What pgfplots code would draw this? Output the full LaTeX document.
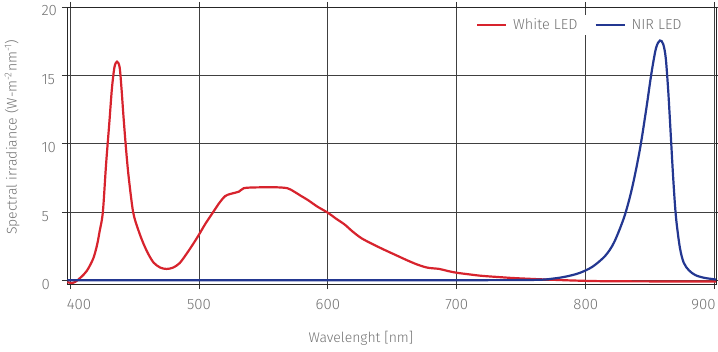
\documentclass[border=0pt]{standalone}
\usepackage{fontspec}
\setmainfont{Fira Sans}[UprightFont=* Light]
\usepackage{pgfplots}
\pgfplotsset{compat=1.18}
\definecolor{wled}{RGB}{215,35,45}
\definecolor{nled}{RGB}{35,55,145}
\definecolor{txt}{RGB}{115,115,115}
\begin{document}
\begin{tikzpicture}
\begin{axis}[
  scale only axis,
  width=649pt, height=277pt,
  xmin=397.7, xmax=901, ymin=-0.25, ymax=20,
  xtick={400,500,...,900}, ytick={0,5,10,15,20},
  xticklabels={\makebox[0pt][l]{\hspace{-3pt}400},500,600,700,800,\makebox[0pt][r]{900\hspace{-1pt}}},
  /pgf/number format/assume math mode=true,
  tick label style={font=\fontsize{15}{15}\selectfont, text=txt},
  xticklabel style={yshift=-7pt},
  yticklabel style={anchor=west, xshift=-24pt, yshift=-4pt},
  tick align=outside, major tick length=5pt,
  tick style={black!80, line width=0.8pt},
  grid=major, grid style={black!75, line width=0.8pt},
  axis line style={black!85, line width=0.8pt},
  xlabel={Wavelenght [nm]}, ylabel={Spectral irradiance (W-m\textsuperscript{-2}nm\textsuperscript{-1})},
  xlabel style={font=\fontsize{14}{14}\selectfont, text=txt, at={(axis description cs:0.453,-0.195)}, anchor=center},
  ylabel style={font=\fontsize{14}{14}\selectfont, text=txt, at={(axis description cs:-0.0847,0.53)}, anchor=center},
  legend columns=2,
  legend style={draw=none, fill=white, font=\fontsize{14.5}{14.5}\selectfont, text=txt,
    at={(axis description cs:0.955,0.935)}, anchor=east,
    /tikz/every even column/.append style={column sep=15pt},
    /tikz/every odd column/.append style={column sep=4pt}},
  legend image code/.code={\draw[#1] (0pt,0pt) -- (29pt,0pt);},
  legend cell align=left,
]
\addplot[wled, line width=2.2pt, smooth, tension=0.5] coordinates {
(398,-0.1) (401,-0.18) (404,-0.1) (408,0.2) (413,0.7) (418,1.6) (421,2.6) (423,3.6) (425.5,5) (428,8.5) (430.5,11.5) (432.5,14) (434.5,15.6) (436.5,16.0) (438.5,15.6) (440,14) (441.5,12) (443.5,9.6) (445.5,7.6) (449,5) (453,3.7) (457,2.7) (461,1.9) (465,1.3) (470,0.95) (475,0.85) (480,0.95) (485,1.27) (490,1.9) (495,2.6) (500,3.35) (505,4.15) (511,5.0) (516,5.7) (520.4,6.18) (524.3,6.33) (528,6.42) (531,6.5) (534.7,6.75) (540,6.8) (550,6.82) (560,6.82) (568.7,6.75) (573.9,6.5) (579,6.2) (584.3,5.9) (592,5.4) (600,4.96) (606,4.55) (613,4.1) (619,3.6) (626,3.1) (635,2.65) (644,2.24) (653,1.85) (662,1.46) (670,1.15) (677.5,0.94) (686.5,0.85) (693,0.7) (700,0.57) (710,0.45) (719,0.35) (732,0.26) (745,0.18) (766,0.09) (792,0.0) (820,-0.05) (901,-0.07)
};
\addlegendentry{White LED}
\addplot[nled, line width=2.2pt, smooth, tension=0.5] coordinates {
(398,0.03) (700,0.03) (760,0.05) (775,0.15) (785,0.3) (795,0.55) (805,1.0) (815,1.8) (822,2.8) (830,4.7) (836,6.8) (842,9.6) (847,12.6) (851,15.2) (854.5,17.0) (857.5,17.55) (860,17.3) (862,16.3) (864,13.8) (866,10.5) (868,7.2) (870,4.6) (873,2.4) (876,1.3) (880,0.75) (885,0.4) (892,0.2) (901,0.08)
};
\addlegendentry{NIR LED}
\end{axis}
\pgfresetboundingbox
\useasboundingbox ([shift={(-67pt,-67pt)}]current axis.south west) rectangle ([shift={(2pt,7pt)}]current axis.north east);
\end{tikzpicture}
\end{document}
